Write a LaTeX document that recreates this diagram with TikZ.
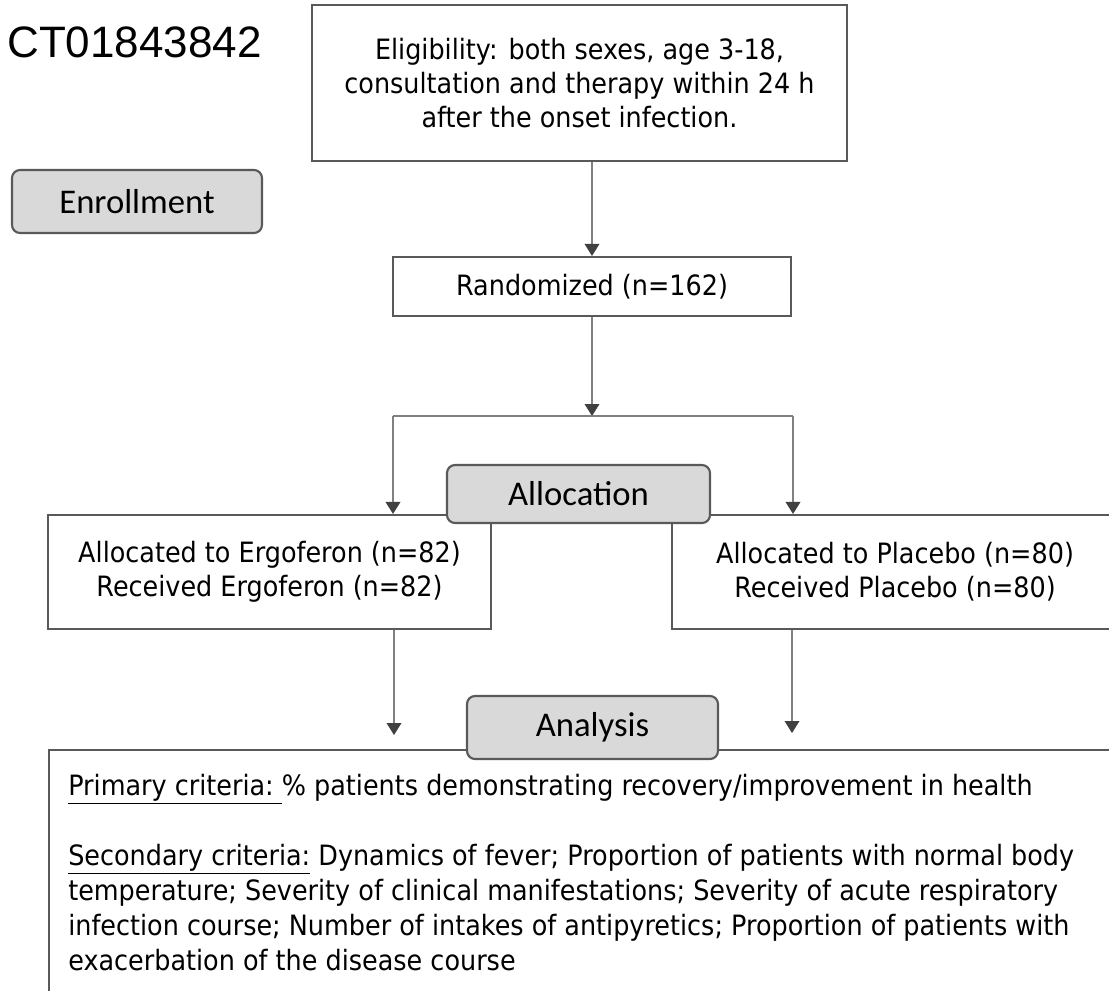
\documentclass[tikz,border=0pt]{standalone}
\usepackage{fontspec}
\setmainfont{DejaVu Sans}[FakeStretch=0.91]
\newfontfamily\calfont{Carlito}
\newfontfamily\arialfont{Liberation Sans}
\usetikzlibrary{arrows.meta}
\definecolor{boxline}{HTML}{595959}
\definecolor{labfill}{HTML}{D9D9D9}
\definecolor{conline}{HTML}{808080}
\definecolor{tipgray}{HTML}{404040}
\begin{document}
\begin{tikzpicture}[x=.75pt,y=-.75pt,
  box/.style={draw=boxline,line width=1.6pt,fill=white,align=center,inner sep=0pt,
    font=\fontsize{21}{25.5}\selectfont},
  lab/.style={draw=boxline,line width=1.6pt,fill=labfill,rounded corners=6pt,inner sep=0pt,
    font=\calfont\fontsize{26}{30}\selectfont},
  con/.style={draw=conline,line width=1.1pt},
  arr/.style={con,-{Triangle[width=11pt,length=9pt,color=tipgray]}}]
\useasboundingbox (0,0) rectangle (1109,990);
\clip (0,0) rectangle (1109,990);
%boxes%
\node[anchor=base east,inner sep=0pt,font=\arialfont\fontsize{33}{40}\selectfont] (reg) at (262,57) {CT01843842};
\node[box,minimum width=401.25pt,minimum height=117pt] (elig) at (579.5,83)
  {Eligibility: both sexes, age 3-18,\\consultation and therapy within 24 h\\after the onset infection.};
\node[lab,minimum width=187.5pt,minimum height=47.25pt] (enrol) at (137,201.5) {Enrollment};
\node[box,minimum width=298.5pt,minimum height=44.25pt] (rand) at (592,286.5) {Randomized (n=162)};
\node[box,minimum width=332.25pt,minimum height=85.5pt] (ergo) at (269.5,572)
  {Allocated to Ergoferon (n=82)\\Received Ergoferon (n=82)};
\node[box,minimum width=334.5pt,minimum height=85.5pt] (plac) at (895,572)
  {Allocated to Placebo (n=80)\\Received Placebo (n=80)};
\node[box,anchor=north west,minimum width=834pt,minimum height=240pt] (crit) at (48,749) {};
\node[anchor=north west,align=left,inner sep=0pt,font=\fontsize{21}{26.25}\selectfont] (crittext) at (68,774)
  {\underline{Primary criteria:\ }\% patients demonstrating recovery/improvement in health\\[26.25pt]
   \underline{Secondary criteria:} Dynamics of fever; Proportion of patients with normal body\\
   temperature; Severity of clinical manifestations; Severity of acute respiratory\\
   infection course; Number of intakes of antipyretics; Proportion of patients with\\
   exacerbation of the disease course};
%connectors%
\coordinate (splitL) at (393,416);
\coordinate (splitR) at (793,416);
\coordinate (endL) at (394,735);
\coordinate (endR) at (792,733);
\draw[arr] (rand.north |- elig.south) -- (rand.north);
\draw[arr] (rand.south) -- (rand.south |- splitL);
\draw[con] (splitL) -- (splitR);
\draw[arr] (splitL) -- (splitL |- ergo.north);
\draw[arr] (splitR) -- (splitR |- plac.north);
\draw[arr] (ergo.south -| endL) -- (endL);
\draw[arr] (plac.south -| endR) -- (endR);
%labels on top%
\node[lab,minimum width=197.25pt,minimum height=43.5pt] (alloc) at (578.5,494) {Allocation};
\node[lab,minimum width=188.25pt,minimum height=47.25pt] (anal) at (592.5,727.5) {Analysis};
\end{tikzpicture}
\end{document}
